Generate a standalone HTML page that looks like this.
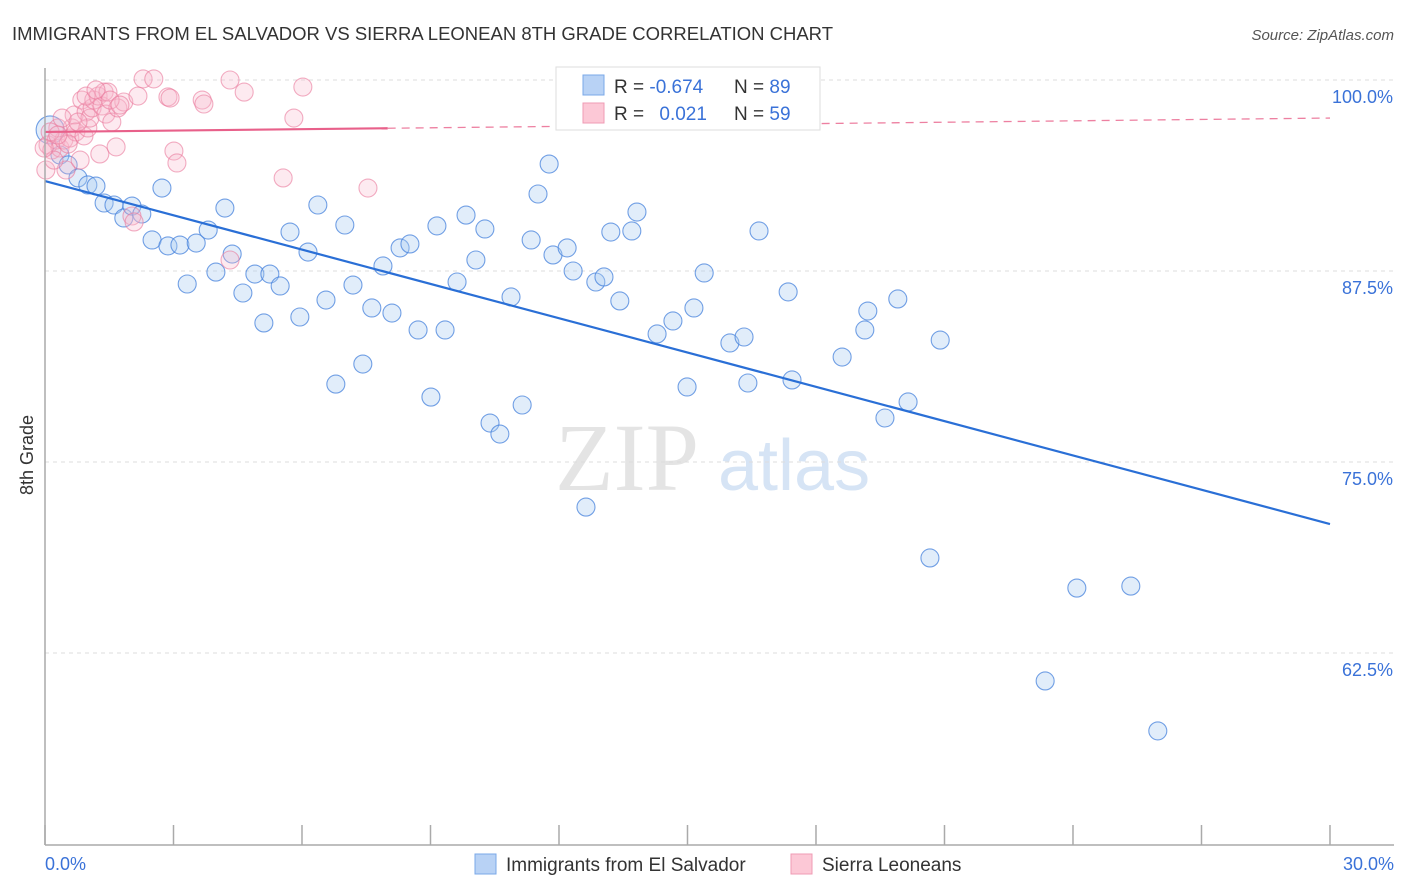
<!DOCTYPE html>
<html><head><meta charset="utf-8"><style>
body{margin:0;background:#fff;font-family:"Liberation Sans",sans-serif;}
#wrap{position:relative;width:1406px;height:892px;overflow:hidden}
</style></head><body>
<div id="wrap">
<svg id="svg" width="1406" height="892" xmlns="http://www.w3.org/2000/svg">
<text x="12" y="40" font-size="18" fill="#333" textLength="821" lengthAdjust="spacingAndGlyphs">IMMIGRANTS FROM EL SALVADOR VS SIERRA LEONEAN 8TH GRADE CORRELATION CHART</text>
<text x="1394" y="40" font-size="15" fill="#555" font-style="italic" text-anchor="end">Source: ZipAtlas.com</text>
<text x="33" y="455" font-size="18" fill="#333" transform="rotate(-90 33 455)" text-anchor="middle">8th Grade</text>
<text x="555" y="490" font-size="96" fill="#e4e4e4" font-family="Liberation Serif">ZIP</text>
<text x="718" y="490" font-size="72" fill="#d6e4f5">atlas</text>
<g id="grid"></g><g id="pts"></g><g id="lines"></g>
<line x1="45" y1="68" x2="45" y2="845" stroke="#aaa" stroke-width="1.5"/>
<line x1="45" y1="845" x2="1394" y2="845" stroke="#aaa" stroke-width="1.5"/>
<text x="45" y="870" font-size="18" fill="#3a72d8">0.0%</text>
<text x="1394" y="870" font-size="18" fill="#3a72d8" text-anchor="end">30.0%</text>
<g>
<rect x="556" y="67" width="264" height="63" fill="#fff" stroke="#ddd"/>
<rect x="583" y="75" width="21" height="20" fill="#b8d2f5" stroke="#7aa8e8"/>
<rect x="583" y="103" width="21" height="20" fill="#fcc8d6" stroke="#ef9bb4"/>
<text x="614" y="93" font-size="19" fill="#333">R = <tspan fill="#3a72d8">-0.674</tspan></text>
<text x="734" y="93" font-size="19" fill="#333">N = <tspan fill="#3a72d8">89</tspan></text>
<text x="614" y="120" font-size="19" fill="#333">R = <tspan fill="#3a72d8" dx="10">0.021</tspan></text>
<text x="734" y="120" font-size="19" fill="#333">N = <tspan fill="#3a72d8">59</tspan></text>
</g>
<g>
<rect x="475" y="854" width="21" height="20" fill="#b8d2f5" stroke="#7aa8e8"/>
<text x="506" y="871" font-size="19" fill="#333">Immigrants from El Salvador</text></g>
<g>
<rect x="791" y="854" width="21" height="20" fill="#fcc8d6" stroke="#ef9bb4"/>
<text x="822" y="871" font-size="19" fill="#333">Sierra Leoneans</text></g>
</svg></div>
<script>
const yTicks=[100,87.5,75,62.5];
const yTickLabels=["100.0%","87.5%","75.0%","62.5%"];
const xTicks=[0,3,6,9,12,15,18,21,24,27,30];
const bluePx=[[50,130],[60,155],[68,165],[78,178],[88,185],[96,186],[104,203],[114,205],[124,218],[132,206],[142,214],[162,188],[152,240],[168,246],[180,245],[196,243],[187,284],[208,230],[216,272],[225,208],[232,254],[243,293],[255,274],[264,323],[270,274],[280,286],[290,232],[300,317],[308,252],[318,205],[326,300],[336,384],[345,225],[353,285],[363,364],[372,308],[383,266],[392,313],[400,248],[410,244],[418,330],[431,397],[437,226],[445,330],[457,282],[466,215],[476,260],[485,229],[490,423],[500,434],[511,297],[522,405],[531,240],[538,194],[549,164],[553,255],[567,248],[573,271],[586,507],[596,282],[604,277],[611,232],[620,301],[632,231],[637,212],[657,334],[673,321],[687,387],[694,308],[704,273],[719,106],[730,343],[744,337],[748,383],[759,231],[788,292],[792,380],[842,357],[865,330],[868,311],[885,418],[898,299],[908,402],[930,558],[940,340],[1045,681],[1077,588],[1131,586],[1158,731]];
const pinkPx=[[48,145],[52,150],[56,140],[60,148],[64,140],[66,170],[70,138],[72,128],[74,115],[76,132],[80,160],[82,100],[84,136],[86,112],[88,128],[90,118],[92,108],[94,100],[98,96],[100,154],[102,106],[104,92],[106,114],[108,92],[112,122],[116,147],[118,108],[124,102],[132,216],[134,222],[138,96],[143,79],[154,79],[168,97],[170,98],[174,151],[177,163],[202,100],[204,104],[230,80],[230,260],[244,92],[283,178],[294,118],[303,87],[368,188],[46,170],[54,160],[58,128],[62,118],[68,144],[78,122],[86,96],[96,90],[110,100],[120,105],[50,132],[58,135],[44,148]];
const blueX=bluePx.map(p=>+((p[0]-45)/42.833).toFixed(2));
const blueY=bluePx.map(p=>+(100-(p[1]-80)/15.28).toFixed(2));
const pinkX=pinkPx.map(p=>+((p[0]-45)/42.833).toFixed(2));
const pinkY=pinkPx.map(p=>+(100-(p[1]-80)/15.28).toFixed(2));
const blueTrend=[93.39,70.94];
const pinkTrend=[96.6,97.51];
const sx=v=>45+v*42.833, sy=v=>80+(100-v)*15.28;
const NS="http://www.w3.org/2000/svg";
function mk(tag,attrs,parent){const e=document.createElementNS(NS,tag);for(const k in attrs)e.setAttribute(k,attrs[k]);document.getElementById(parent).appendChild(e);return e;}
yTicks.forEach((t,i)=>{
 const l=mk('line',{x1:45,x2:1394,y1:sy(t),y2:sy(t),stroke:'#ddd','stroke-dasharray':'4,4'},'grid');
 
 
 const tx=mk('text',{x:1393,y:sy(t)+23,'font-size':18,fill:'#3a72d8','text-anchor':'end'},'grid');
 tx.textContent=yTickLabels[i];
 
 
});
xTicks.forEach(t=>{
 const l=mk('line',{x1:sx(t),x2:sx(t),y1:825,y2:845,stroke:'#aaa','stroke-width':1.5},'grid');
 
 
});
blueX.forEach((x,i)=>{
 const c=mk('circle',{cx:sx(x),cy:sy(blueY[i]),r:i==0?14:9,fill:'rgba(170,202,242,0.35)',stroke:'rgba(70,130,220,0.75)','stroke-width':1.1},'pts');
 
 
});
pinkX.forEach((x,i)=>{
 const c=mk('circle',{cx:sx(x),cy:sy(pinkY[i]),r:9,fill:'rgba(248,185,205,0.3)',stroke:'rgba(234,120,155,0.6)','stroke-width':1.1},'pts');
 
 
});
let b=mk('line',{x1:sx(0),y1:sy(blueTrend[0]),x2:sx(30),y2:sy(blueTrend[1]),stroke:'#2a6fd6','stroke-width':2.2},'lines');


const pm=pinkTrend[0]+(pinkTrend[1]-pinkTrend[0])*8/30;
let p1=mk('line',{x1:sx(0),y1:sy(pinkTrend[0]),x2:sx(8),y2:sy(pm),stroke:'#e8608a','stroke-width':2.2},'lines');


let p2=mk('line',{x1:sx(8),y1:sy(pm),x2:sx(30),y2:sy(pinkTrend[1]),stroke:'#e8608a','stroke-width':1.3,'stroke-dasharray':'8,6','stroke-opacity':0.8},'lines');


</script>
</body></html>
